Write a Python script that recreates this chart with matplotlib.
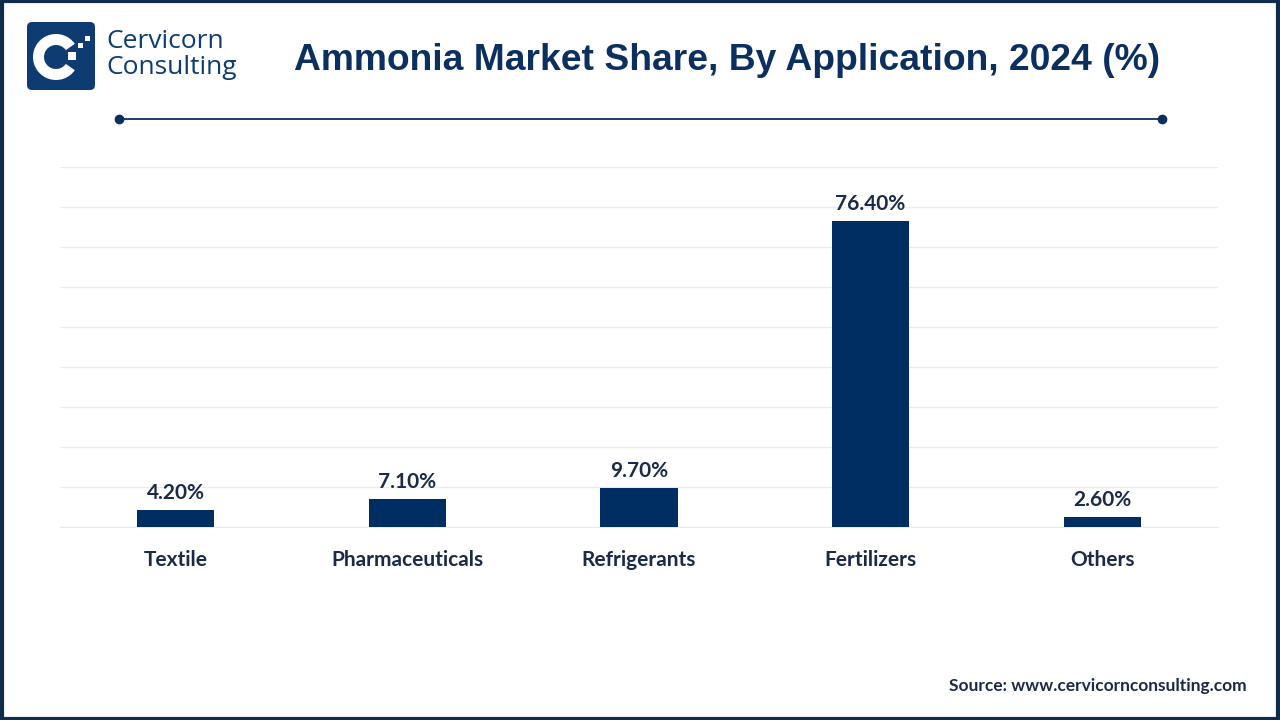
import matplotlib.pyplot as plt
from matplotlib.patches import FancyBboxPatch, Wedge, Rectangle
from matplotlib.lines import Line2D

# Datos
categories = ["Textile", "Pharmaceuticals", "Refrigerants", "Fertilizers", "Others"]
shares = [4.2, 7.1, 9.7, 76.4, 2.6]
value_labels = ["4.20%", "7.10%", "9.70%", "76.40%", "2.60%"]

navy = "#002d62"
text_dark = "#1b2a47"

fig = plt.figure(figsize=(12.8, 7.2), dpi=100)
fig.patch.set_facecolor("white")

# Borde exterior
fig.add_artist(Rectangle((0.0015, 0.002), 0.997, 0.996, transform=fig.transFigure,
                         fill=False, edgecolor="#0f2d4a", linewidth=3))

# Ejes principales
ax = fig.add_axes([60 / 1280, 1 - 527 / 720, 1158 / 1280, 360 / 720])
x = range(len(categories))
ax.bar(x, shares, width=0.333, color=navy, zorder=3)
ax.set_xlim(-0.5, 4.5)
ax.set_ylim(0, 90)
ax.set_yticks(range(0, 91, 10))
ax.yaxis.grid(True, color="#ebebeb", linewidth=1)
ax.tick_params(axis="y", left=False, labelleft=False)
ax.tick_params(axis="x", bottom=False, pad=13)
ax.set_xticks(list(x))
ax.set_xticklabels(categories, fontsize=15, fontweight="bold", color=text_dark,
                   family=["Lato", "DejaVu Sans"])
for side in ["top", "right", "left"]:
    ax.spines[side].set_visible(False)
ax.spines["bottom"].set_color("#ebebeb")

for xi, v, lab in zip(x, shares, value_labels):
    ax.annotate(lab, (xi, v), xytext=(0, 5), textcoords="offset points",
                ha="center", va="bottom", fontsize=15, fontweight="bold",
                color=text_dark, family=["Lato", "DejaVu Sans"])

# Titulo
fig.text(727 / 1280, 1 - 60 / 720, "Ammonia Market Share, By Application, 2024 (%)",
         ha="center", va="center", fontsize=26.8, fontweight="bold", color="#0b2f5e",
         family=["Liberation Sans", "DejaVu Sans"])

# Linea decorativa
fig.add_artist(Line2D([119 / 1280, 1162 / 1280], [1 - 119 / 720, 1 - 119 / 720],
                      transform=fig.transFigure, color="#0b2f5e", linewidth=1.3))
fig.add_artist(Line2D([119 / 1280, 1162 / 1280], [1 - 119 / 720, 1 - 119 / 720],
                      transform=fig.transFigure, linestyle="none", marker="o",
                      markersize=6, color="#0b2f5e"))

# Logo
lx = fig.add_axes([0, 0, 1, 1], facecolor="none")
lx.set_xlim(0, 1280)
lx.set_ylim(720, 0)
lx.axis("off")
lx.add_patch(FancyBboxPatch((27, 22), 68, 68, boxstyle="round,pad=0,rounding_size=5",
                            facecolor="#0d3b72", edgecolor="none"))
lx.add_patch(Wedge((56, 57), 23, 35, 325, width=11, facecolor="white", edgecolor="none"))
lx.add_patch(Rectangle((68, 52), 8, 8, facecolor="white", edgecolor="none"))
lx.add_patch(Rectangle((78, 43), 5, 5, facecolor="white", edgecolor="none"))
lx.add_patch(Rectangle((85, 36), 5, 5, facecolor="white", edgecolor="none"))
lx.text(106, 42, "Cervicorn", fontsize=19, color="#0d3b72", va="center", ha="left",
        fontweight="medium", family=["Open Sans", "DejaVu Sans"])
lx.text(106, 67, "Consulting", fontsize=19, color="#0d3b72", va="center", ha="left",
        fontweight="medium", family=["Open Sans", "DejaVu Sans"])

# Fuente
fig.text(1247 / 1280, 1 - 686 / 720, "Source: www.cervicornconsulting.com",
         ha="right", va="center", fontsize=12.5, fontweight="bold", color=text_dark,
         family=["Lato", "DejaVu Sans"])

fig.savefig("out.png", dpi=100, facecolor="white")
